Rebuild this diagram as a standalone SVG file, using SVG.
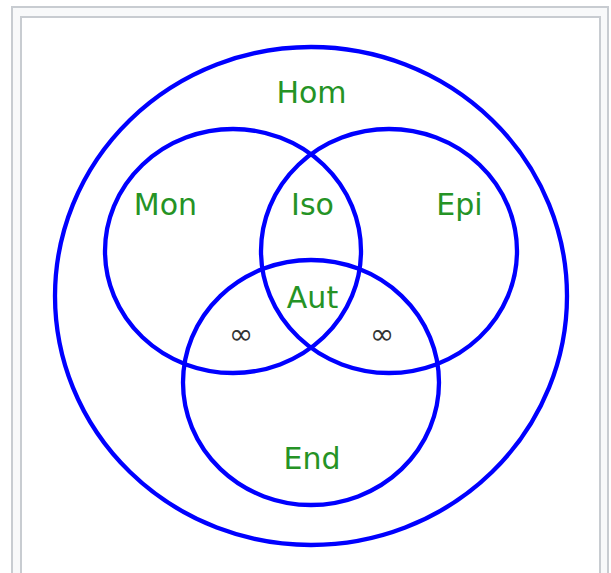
<svg xmlns="http://www.w3.org/2000/svg" width="611" height="573" viewBox="0 0 611 573">
<style>
.set{fill:none;stroke:#0000ff;stroke-width:4.3}
.lbl{font-family:"DejaVu Sans",sans-serif;font-size:30px;fill:#259325;text-anchor:middle}
.inf{font-family:"DejaVu Sans",sans-serif;font-size:29px;fill:#333;text-anchor:middle}
</style>
<rect x="12" y="7" width="596" height="580" fill="#f8f9fa" stroke="#c8ccd1" stroke-width="2"/>
<rect x="21" y="17" width="579" height="570" fill="#ffffff" stroke="#c8ccd1" stroke-width="2"/>
<g id="hom"><ellipse class="set" cx="311" cy="296" rx="256" ry="249"/><text class="lbl" x="311.5" y="103">Hom</text></g>
<g id="mon"><ellipse class="set" cx="233" cy="251" rx="128" ry="122"/><text class="lbl" x="165.5" y="215">Mon</text></g>
<g id="epi"><ellipse class="set" cx="389" cy="251" rx="128" ry="122"/><text class="lbl" x="459.5" y="215">Epi</text></g>
<g id="end"><ellipse class="set" cx="311" cy="382.5" rx="128" ry="122.5"/><text class="lbl" x="312" y="469">End</text></g>
<g id="iso"><text class="lbl" x="312.5" y="215">Iso</text></g>
<g id="aut"><text class="lbl" x="312.5" y="308">Aut</text></g>
<g id="inf1"><text class="inf" x="241" y="344">∞</text></g>
<g id="inf2"><text class="inf" x="382" y="344">∞</text></g>
<g id="connectors"/>
</svg>
